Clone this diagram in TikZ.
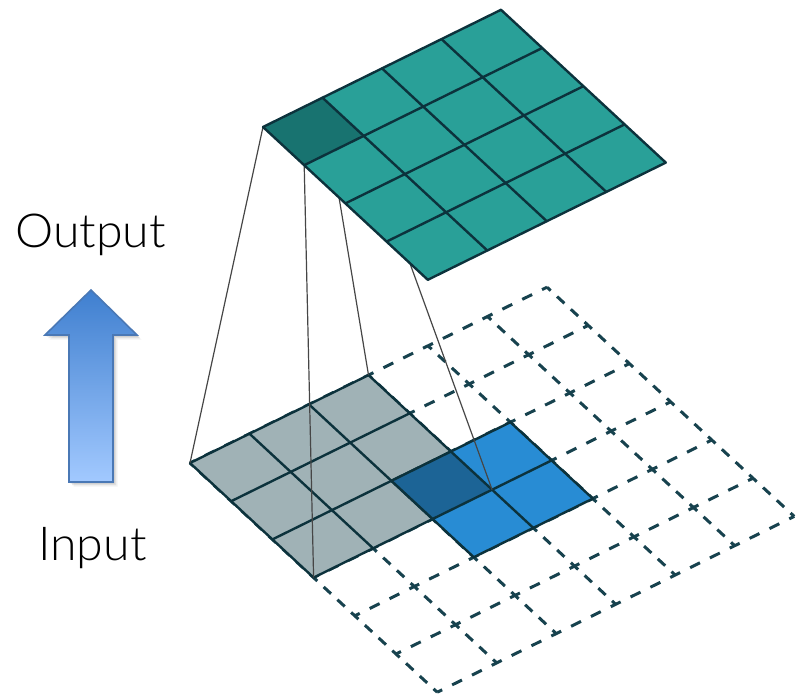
\documentclass[tikz,border=0pt]{standalone}
\usepackage{fontspec}
\newfontfamily\lightfont{Lato Light}
\usetikzlibrary{calc}

\definecolor{tealc}{HTML}{29A098}
\definecolor{tealdark}{HTML}{187370}
\definecolor{gridc}{HTML}{0C323C}
\definecolor{kernelc}{HTML}{A0B2B6}
\definecolor{inblue}{HTML}{288CD4}
\definecolor{inbluedark}{HTML}{1C6496}
\definecolor{dashc}{HTML}{17424E}
\definecolor{linkc}{HTML}{464646}
\definecolor{arrowtop}{HTML}{3F7FCF}
\definecolor{arrowbot}{HTML}{A2C9FF}
\definecolor{arrowedge}{HTML}{4A78B5}

\tikzset{
  solidgrid/.style={draw=gridc, line width=2.4bp, line join=round, line cap=round},
  ulines/.style={draw=dashc, line width=3bp, dash pattern=on 11bp off 11.107bp, dash phase=5.5bp},
  vlines/.style={draw=dashc, line width=3bp, dash pattern=on 10bp off 8.728bp, dash phase=5bp},
  link/.style={draw=linkc, line width=1.2bp},
  lbl/.style={font=\lightfont\fontsize{47}{47}\selectfont, text=black, inner sep=0pt, xscale=1.03},
  cellbasis/.style={x={(59.5bp,29.3bp)}, y={(41.2bp,-38.2bp)}}
}

\begin{document}
\begin{tikzpicture}[x=1bp,y=-1bp]
\useasboundingbox (0,0) rectangle (798,699);

% ---------- padded input plane (6 x 6) ----------
\begin{scope}[shift={(190,463)}, cellbasis]
  \foreach \i in {0,...,6}{
    \foreach \j in {0,...,6}{
      \coordinate (p\i\j) at (\i,\j);
    }
  }
  % dashed padding grid
  \foreach \k in {0,...,6}{
    \path[ulines] (p0\k) -- (p6\k);
    \path[vlines] (p\k0) -- (p\k6);
  }
  % 3 x 3 kernel footprint
  \fill[kernelc] (p00) -- (p30) -- (p33) -- (p03) -- cycle;
  \foreach \k in {0,...,3}{
    \path[solidgrid] (p0\k) -- (p3\k);
    \path[solidgrid] (p\k0) -- (p\k3);
  }
  % 2 x 2 input
  \fill[inblue] (p22) -- (p42) -- (p44) -- (p24) -- cycle;
  \fill[inbluedark] (p22) -- (p32) -- (p33) -- (p23) -- cycle;
  \foreach \k in {2,3,4}{
    \path[solidgrid] (p2\k) -- (p4\k);
    \path[solidgrid] (p\k2) -- (p\k4);
  }
\end{scope}

% ---------- output plane (4 x 4) ----------
\begin{scope}[shift={(263,127)}, cellbasis]
  \foreach \i in {0,...,4}{
    \foreach \j in {0,...,4}{
      \coordinate (o\i\j) at (\i,\j);
    }
  }
\end{scope}

% projection lines from the active output cell to the kernel corners
\path[link] (o00) -- (p00);
\path[link] (o01) -- (p03);
\path[link] (o10) -- (p30);
\path[link] (o11) -- (p33);

\fill[tealc] (o00) -- (o40) -- (o44) -- (o04) -- cycle;
\fill[tealdark] (o00) -- (o10) -- (o11) -- (o01) -- cycle;
\foreach \k in {0,...,4}{
  \path[solidgrid] (o0\k) -- (o4\k);
  \path[solidgrid] (o\k0) -- (o\k4);
}

% ---------- direction arrow ----------
\coordinate (tip) at (91,290);
\coordinate (hl) at (45,335);
\coordinate (hr) at (137,335);
\coordinate (sl) at (69,335);
\coordinate (sr) at (113,335);
\coordinate (bl) at (69,482);
\coordinate (br) at (113,482);
\foreach \d/\o in {1.5/0.10, 3/0.08, 4.5/0.05}{
  \fill[black, opacity=\o] ($(tip)+(\d,\d)$) -- ($(hr)+(\d,\d)$) -- ($(sr)+(\d,\d)$)
    -- ($(br)+(\d,\d)$) -- ($(bl)+(\d,\d)$) -- ($(sl)+(\d,\d)$) -- ($(hl)+(\d,\d)$) -- cycle;
}
\shade[top color=arrowtop, bottom color=arrowbot, draw=arrowedge, line width=1.6bp, line join=miter]
  (tip) -- (hr) -- (sr) -- (br) -- (bl) -- (sl) -- (hl) -- cycle;

% ---------- labels ----------
\node[lbl, anchor=base west] (outlabel) at (15,247) {Output};
\node[lbl, anchor=base west] (inlabel) at (38,560) {Input};
\end{tikzpicture}
\end{document}
